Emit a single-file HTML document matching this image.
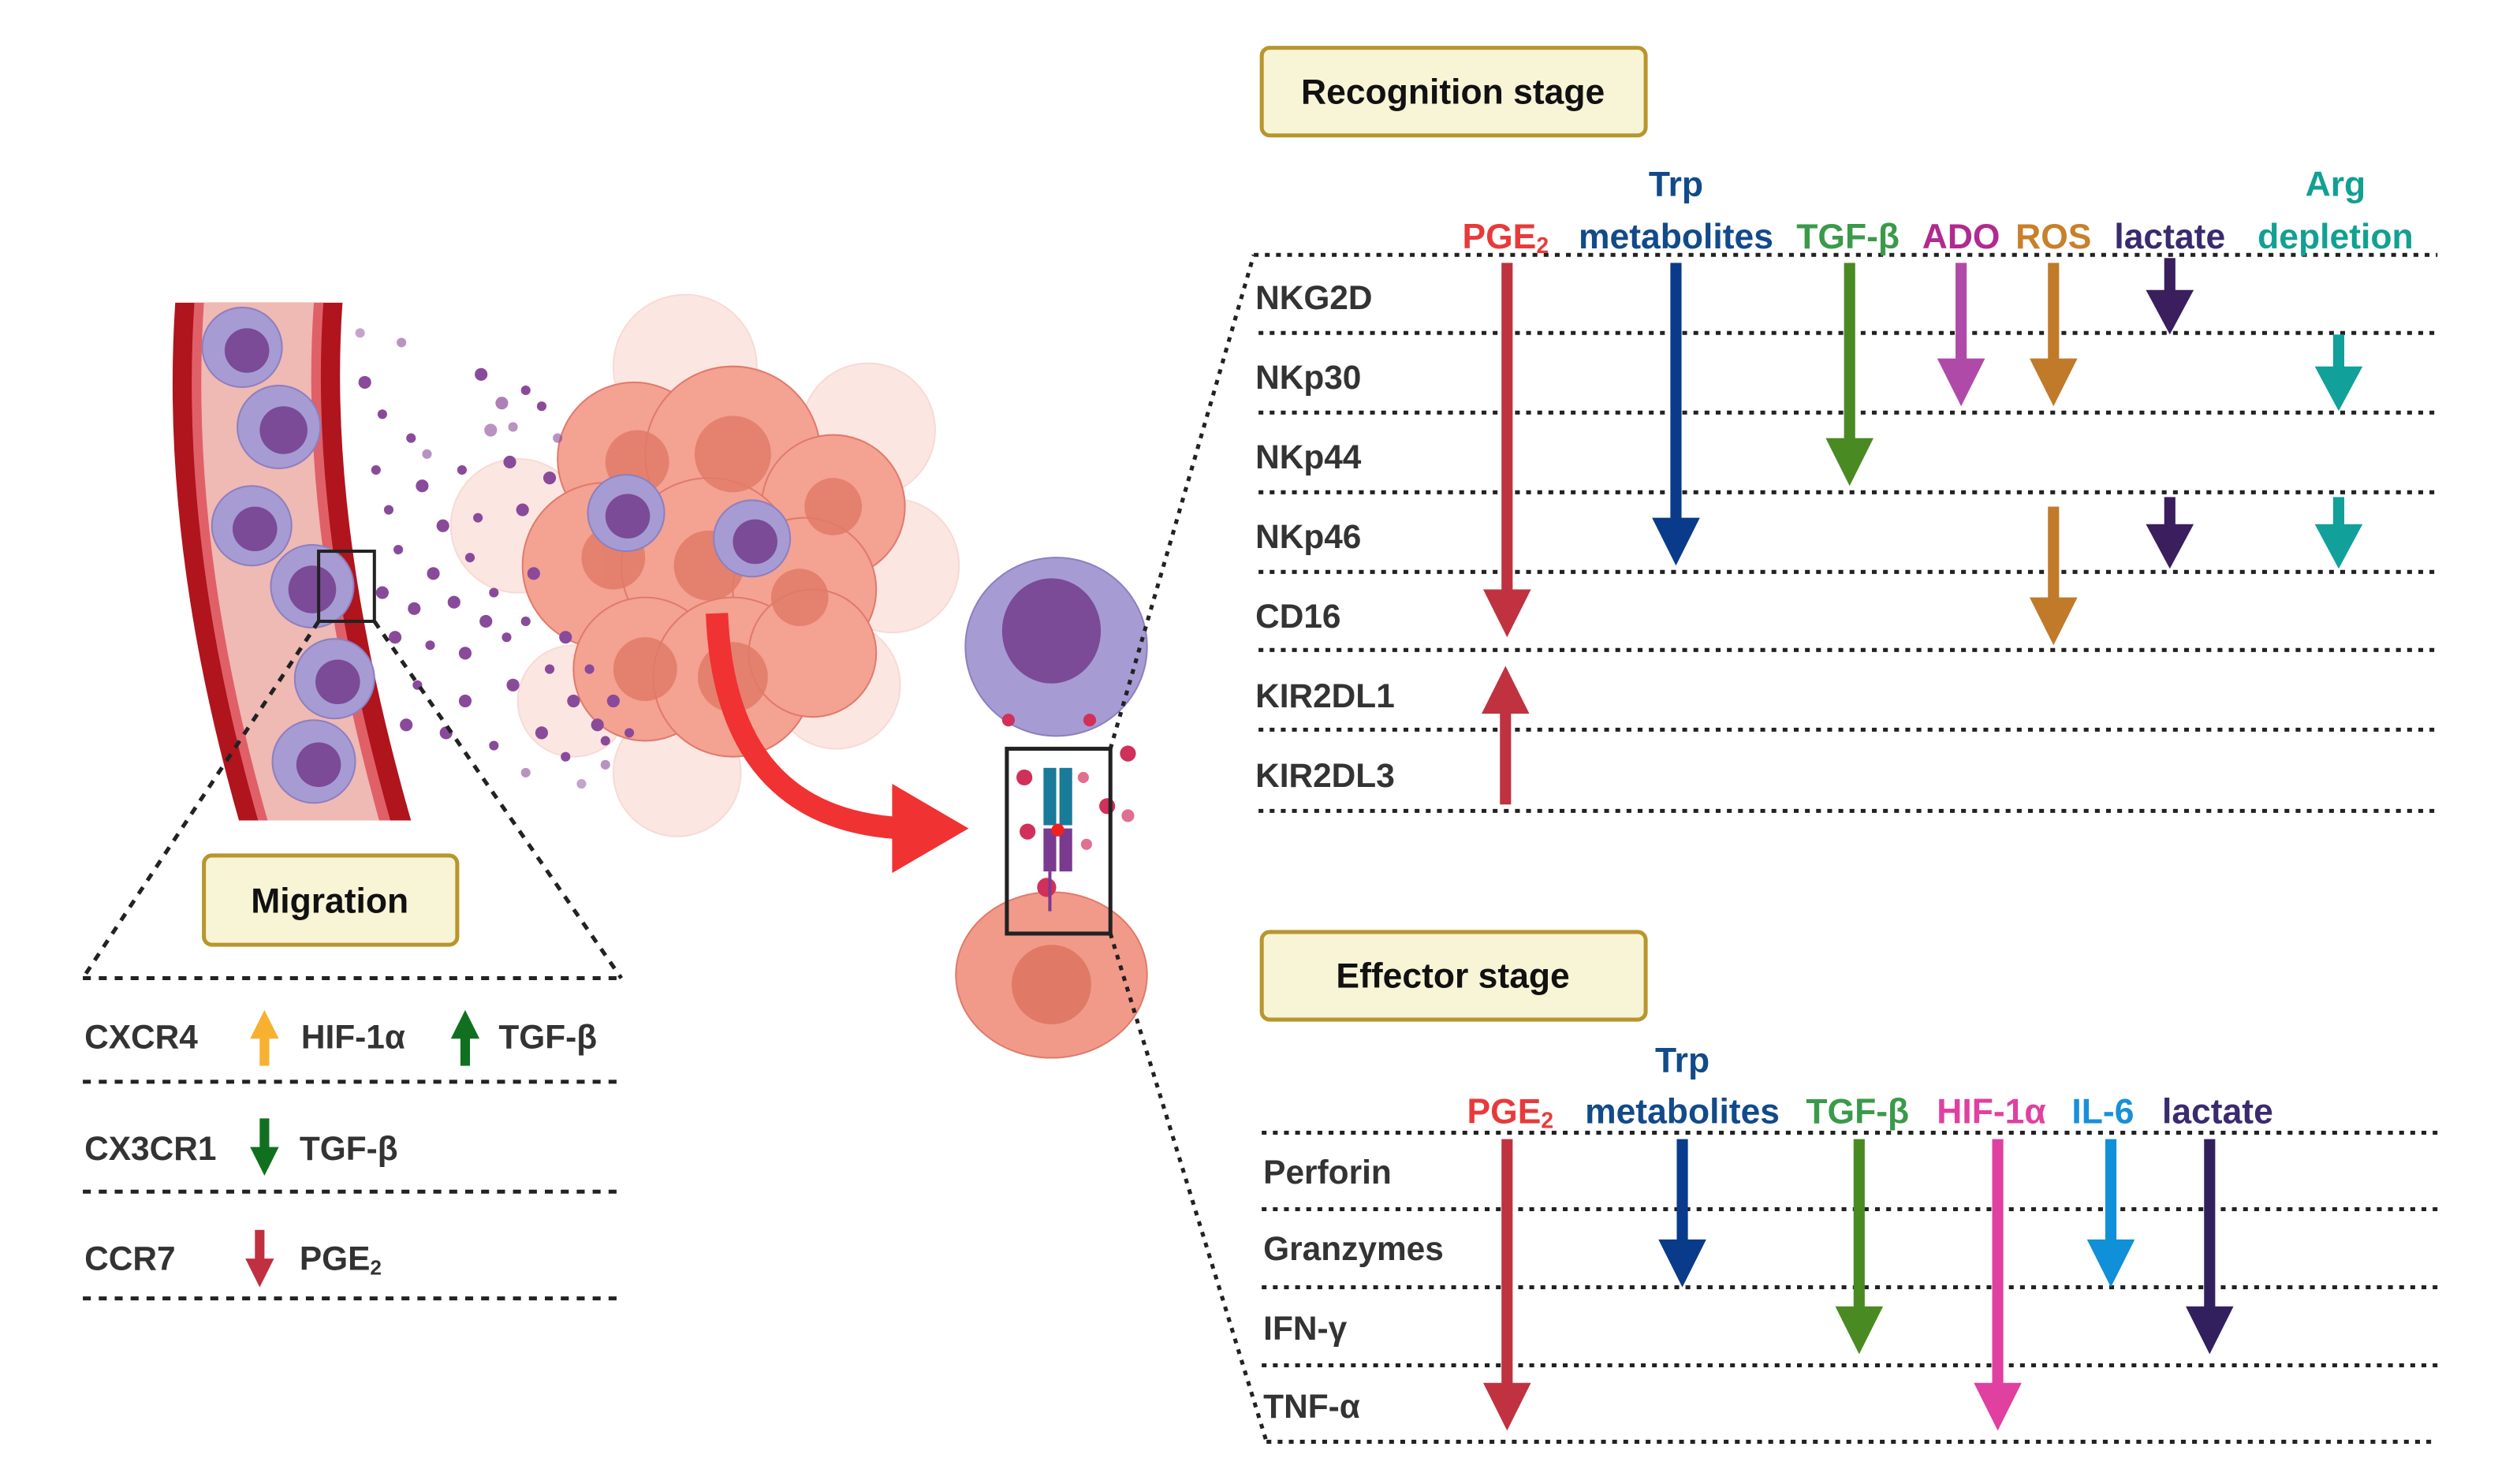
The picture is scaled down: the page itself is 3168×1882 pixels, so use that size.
<!DOCTYPE html>
<html><head><meta charset="utf-8"><style>
html,body{margin:0;padding:0;background:#fff;}
svg{display:block;}
text{font-family:"Liberation Sans",sans-serif;font-weight:bold;}
</style></head><body>
<svg width="3168" height="1882" viewBox="0 0 1568 931.5" xmlns="http://www.w3.org/2000/svg">
<rect width="1568" height="931.5" fill="#fff"/>

<!-- vessel -->
<path d="M110,190 L215,190 Q205,330 258,515 L150,515 Q100,340 110,190 Z" fill="#b0141c"/>
<path d="M122,190 L203,190 Q193,330 245,515 L162,515 Q112,340 122,190 Z" fill="#e06068"/>
<path d="M128,190 L197,190 Q187,330 238,515 L168,515 Q118,340 128,190 Z" fill="#efb9b4"/>
<g stroke="#8d7fc0" stroke-width="1">
<circle cx="152" cy="218" r="25" fill="#a79bd3"/><circle cx="175" cy="268" r="26" fill="#a79bd3"/>
<circle cx="158" cy="330" r="25" fill="#a79bd3"/><circle cx="196" cy="368" r="26" fill="#a79bd3"/>
<circle cx="210" cy="426" r="25" fill="#a79bd3"/><circle cx="197" cy="478" r="26" fill="#a79bd3"/>
</g>
<g fill="#7b4b97">
<circle cx="155" cy="220" r="14"/><circle cx="178" cy="270" r="15"/><circle cx="160" cy="332" r="14"/>
<circle cx="196" cy="370" r="15"/><circle cx="212" cy="428" r="14"/><circle cx="200" cy="480" r="14"/>
</g>
<rect x="200" y="346" width="35" height="44" fill="none" stroke="#222" stroke-width="2"/>

<!-- tumor -->
<g stroke="#e88878" stroke-width="1">
<g opacity=".3" fill="#f6b0a2">
<circle cx="430" cy="230" r="45"/><circle cx="545" cy="270" r="42"/><circle cx="560" cy="355" r="42"/>
<circle cx="325" cy="330" r="42"/><circle cx="425" cy="485" r="40"/><circle cx="525" cy="430" r="40"/><circle cx="360" cy="440" r="35"/>
</g>
<g fill="#f4a292" stroke="#e07a6c">
<circle cx="398" cy="288" r="48"/><circle cx="460" cy="285" r="55"/><circle cx="523" cy="318" r="45"/>
<circle cx="380" cy="355" r="52"/><circle cx="445" cy="355" r="55"/><circle cx="505" cy="370" r="45"/>
<circle cx="405" cy="420" r="45"/><circle cx="460" cy="425" r="50"/><circle cx="510" cy="410" r="40"/>
</g>
</g>
<g fill="#e07a66" opacity=".8">
<circle cx="400" cy="290" r="20"/><circle cx="460" cy="285" r="24"/><circle cx="523" cy="318" r="18"/>
<circle cx="385" cy="350" r="20"/><circle cx="445" cy="355" r="22"/><circle cx="502" cy="375" r="18"/>
<circle cx="405" cy="420" r="20"/><circle cx="460" cy="425" r="22"/>
</g>

<!-- dots -->
<g fill="#8a4a9a">
<circle cx="226" cy="209" r="3" opacity=".5"/><circle cx="252" cy="215" r="3" opacity=".6"/><circle cx="229" cy="240" r="4"/>
<circle cx="240" cy="260" r="3"/><circle cx="258" cy="275" r="3"/><circle cx="302" cy="235" r="4"/><circle cx="315" cy="253" r="4" opacity=".7"/>
<circle cx="330" cy="245" r="3"/><circle cx="308" cy="270" r="4" opacity=".6"/><circle cx="236" cy="295" r="3"/><circle cx="265" cy="305" r="4"/>
<circle cx="290" cy="295" r="3"/><circle cx="320" cy="290" r="4"/><circle cx="244" cy="320" r="3"/><circle cx="278" cy="330" r="4"/>
<circle cx="300" cy="325" r="3"/><circle cx="328" cy="320" r="4"/><circle cx="250" cy="345" r="3"/><circle cx="272" cy="360" r="4"/>
<circle cx="295" cy="350" r="3"/><circle cx="240" cy="372" r="4"/><circle cx="260" cy="382" r="4"/><circle cx="285" cy="378" r="4"/>
<circle cx="310" cy="372" r="3"/><circle cx="335" cy="360" r="4"/><circle cx="248" cy="400" r="4"/><circle cx="270" cy="405" r="3"/>
<circle cx="292" cy="410" r="4"/><circle cx="318" cy="400" r="3"/><circle cx="262" cy="430" r="3"/><circle cx="292" cy="440" r="4"/>
<circle cx="322" cy="430" r="4"/><circle cx="345" cy="420" r="3"/><circle cx="280" cy="460" r="4"/><circle cx="310" cy="468" r="3"/>
<circle cx="340" cy="460" r="4"/><circle cx="360" cy="440" r="4"/><circle cx="355" cy="475" r="3"/><circle cx="375" cy="455" r="4"/>
<circle cx="380" cy="480" r="3" opacity=".6"/><circle cx="365" cy="492" r="3" opacity=".5"/><circle cx="345" cy="300" r="4"/><circle cx="350" cy="275" r="3" opacity=".6"/>
<circle cx="340" cy="255" r="3"/><circle cx="322" cy="268" r="3" opacity=".6"/><circle cx="355" cy="400" r="4"/><circle cx="370" cy="420" r="3"/>
<circle cx="385" cy="440" r="4"/><circle cx="395" cy="460" r="3"/><circle cx="380" cy="465" r="3"/><circle cx="268" cy="285" r="3" opacity=".6"/>
<circle cx="305" cy="390" r="4"/><circle cx="330" cy="390" r="3"/><circle cx="255" cy="455" r="4"/><circle cx="330" cy="485" r="3" opacity=".6"/>
</g>
<g stroke="#8d7fc0" stroke-width="1" fill="#a79bd3"><circle cx="393" cy="322" r="24"/><circle cx="472" cy="338" r="24"/></g>
<g fill="#7b4b97"><circle cx="394" cy="324" r="14"/><circle cx="474" cy="340" r="14"/></g>

<!-- red curved arrow -->
<path d="M450,385 Q455,515 568,520" fill="none" stroke="#f03232" stroke-width="14"/>
<polygon points="560,492 608,520 560,548" fill="#f03232"/>

<!-- right cells -->
<ellipse cx="660" cy="612" rx="60" ry="52" fill="#f29a8a" stroke="#e07a6a"/>
<circle cx="660" cy="618" r="25" fill="#e07a66"/>
<ellipse cx="663" cy="406" rx="57" ry="56" fill="#a79bd3" stroke="#8d7fc0"/>
<ellipse cx="660" cy="396" rx="31" ry="33" fill="#7b4b97"/>
<g fill="#d0305a"><circle cx="633" cy="452" r="4"/><circle cx="684" cy="452" r="4"/><circle cx="643" cy="488" r="5"/><circle cx="708" cy="473" r="5"/>
<circle cx="695" cy="506" r="5"/><circle cx="645" cy="522" r="5"/><circle cx="657" cy="557" r="6"/></g>
<g fill="#e07090"><circle cx="680" cy="488" r="3.5"/><circle cx="708" cy="512" r="4"/><circle cx="682" cy="530" r="3.5"/></g>
<rect x="655" y="482" width="8" height="36" fill="#1a7a9a"/><rect x="665" y="482" width="8" height="36" fill="#1a7a9a"/>
<rect x="655" y="520" width="8" height="27" fill="#7a3a90"/><rect x="665" y="520" width="8" height="27" fill="#7a3a90"/>
<circle cx="664" cy="521" r="4" fill="#f02020"/>
<line x1="659" y1="547" x2="659" y2="572" stroke="#7a3a90" stroke-width="2"/>
<rect x="632" y="470" width="65" height="116" fill="none" stroke="#222" stroke-width="2.5"/>

<!-- connecting dashed lines -->
<g stroke="#222" stroke-width="2.5" stroke-dasharray="5 5" fill="none">
<line x1="200" y1="390" x2="52" y2="614"/><line x1="235" y1="390" x2="390" y2="614"/>
<line x1="52" y1="614" x2="390" y2="614"/><line x1="52" y1="679" x2="390" y2="679"/>
<line x1="52" y1="748" x2="390" y2="748"/><line x1="52" y1="815" x2="390" y2="815"/>
</g>
<g stroke="#222" stroke-width="2.5" stroke-dasharray="3 4" fill="none">
<line x1="697" y1="470" x2="787" y2="160"/><line x1="697" y1="586" x2="795" y2="905"/>
<line x1="787" y1="160" x2="1530" y2="160"/><line x1="790" y1="209" x2="1530" y2="209"/><line x1="790" y1="259" x2="1530" y2="259"/>
<line x1="790" y1="309" x2="1530" y2="309"/><line x1="790" y1="359" x2="1530" y2="359"/><line x1="790" y1="408" x2="1530" y2="408"/>
<line x1="790" y1="458" x2="1530" y2="458"/><line x1="790" y1="509" x2="1530" y2="509"/>
<line x1="792" y1="711" x2="1530" y2="711"/><line x1="792" y1="759" x2="1530" y2="759"/><line x1="792" y1="808" x2="1530" y2="808"/>
<line x1="792" y1="857" x2="1530" y2="857"/><line x1="795" y1="905" x2="1530" y2="905"/>
</g>

<!-- boxes -->
<g fill="#f8f4d6" stroke="#b8962e" stroke-width="2.5">
<rect x="792" y="30" width="241" height="55" rx="5"/><rect x="792" y="585" width="241" height="55" rx="5"/><rect x="128" y="537" width="159" height="56" rx="5"/>
</g>
<text x="912" y="65" font-size="22" text-anchor="middle" fill="#111">Recognition stage</text>
<text x="912" y="620" font-size="22" text-anchor="middle" fill="#111">Effector stage</text>
<text x="207" y="573" font-size="22" text-anchor="middle" fill="#111">Migration</text>

<!-- migration rows -->
<g font-size="21" fill="#333">
<text x="53" y="658">CXCR4</text><text x="189" y="658">HIF-1α</text><text x="313" y="658">TGF-β</text>
<text x="53" y="728">CX3CR1</text><text x="188" y="728">TGF-β</text>
<text x="53" y="797">CCR7</text><text x="188" y="797">PGE<tspan font-size="13" dy="3">2</tspan></text>
</g>
<polygon points="166,634 157,652 163,652 163,669 169,669 169,652 175,652" fill="#f8b030"/>
<polygon points="292,634 283,652 289,652 289,669 295,669 295,652 301,652" fill="#107020"/>
<polygon points="166,738 157,720 163,720 163,702 169,702 169,720 175,720" fill="#107020"/>
<polygon points="163,808 154,790 160,790 160,772 166,772 166,790 172,790" fill="#c03040"/>

<!-- recognition headers -->
<g font-size="22" text-anchor="middle">
<text x="945" y="156" fill="#e83a3a">PGE<tspan font-size="14" dy="3">2</tspan></text>
<text x="1052" y="123" fill="#124a8a">Trp</text><text x="1052" y="156" fill="#124a8a">metabolites</text>
<text x="1160" y="156" fill="#3a9a4a">TGF-β</text><text x="1231" y="156" fill="#b02a90">ADO</text>
<text x="1289" y="156" fill="#c8802a">ROS</text><text x="1362" y="156" fill="#3a2a6e">lactate</text>
<text x="1466" y="123" fill="#12a092">Arg</text><text x="1466" y="156" fill="#12a092">depletion</text>
</g>
<g font-size="21" fill="#333">
<text x="788" y="194">NKG2D</text><text x="788" y="244">NKp30</text><text x="788" y="294">NKp44</text><text x="788" y="344">NKp46</text>
<text x="788" y="394">CD16</text><text x="788" y="444">KIR2DL1</text><text x="788" y="494">KIR2DL3</text>
</g>
<!-- effector headers -->
<g font-size="22" text-anchor="middle">
<text x="948" y="705" fill="#e83a3a">PGE<tspan font-size="14" dy="3">2</tspan></text>
<text x="1056" y="673" fill="#124a8a">Trp</text><text x="1056" y="705" fill="#124a8a">metabolites</text>
<text x="1166" y="705" fill="#3a9a4a">TGF-β</text><text x="1250" y="705" fill="#e040a0">HIF-1α</text>
<text x="1320" y="705" fill="#1890d8">IL-6</text><text x="1392" y="705" fill="#3a2a6e">lactate</text>
</g>
<g font-size="21" fill="#333">
<text x="793" y="743">Perforin</text><text x="793" y="791">Granzymes</text><text x="793" y="841">IFN-γ</text><text x="793" y="890">TNF-α</text>
</g>

<!-- arrows -->
<g>
<path d="M942.5,165h7v205h11.5l-15,30l-15,-30h11.5z" fill="#c0323f"/>
<path d="M1048.5,165h7v160h11.5l-15,30l-15,-30h11.5z" fill="#0a3a8a"/>
<path d="M1157.5,165h7v110h11.5l-15,30l-15,-30h11.5z" fill="#4a8a22"/>
<path d="M1227.5,165h7v60h11.5l-15,30l-15,-30h11.5z" fill="#b04aa8"/>
<path d="M1285.5,165h7v60h11.5l-15,30l-15,-30h11.5z" fill="#c07a2a"/>
<path d="M1358.5,162h7v20h11.5l-15,28l-15,-28h11.5z" fill="#3a1e5e"/>
<path d="M1464.5,210h7v20h11.5l-15,28l-15,-28h11.5z" fill="#12a09a"/>
<path d="M1285.5,318h7v57h11.5l-15,30l-15,-30h11.5z" fill="#c07a2a"/>
<path d="M1358.5,312h7v17h11.5l-15,28l-15,-28h11.5z" fill="#3a1e5e"/>
<path d="M1464.5,312h7v17h11.5l-15,28l-15,-28h11.5z" fill="#12a09a"/>
<path d="M941.5,505h7v-57h11.5l-15,-30l-15,30h11.5z" fill="#c0323f"/>
<path d="M942.5,715h7v153h11.5l-15,30l-15,-30h11.5z" fill="#c0323f"/>
<path d="M1052.5,715h7v63h11.5l-15,30l-15,-30h11.5z" fill="#0a3a8a"/>
<path d="M1163.5,715h7v105h11.5l-15,30l-15,-30h11.5z" fill="#4a8a22"/>
<path d="M1250.5,715h7v153h11.5l-15,30l-15,-30h11.5z" fill="#e040a0"/>
<path d="M1321.5,715h7v63h11.5l-15,30l-15,-30h11.5z" fill="#1090d8"/>
<path d="M1383.5,715h7v105h11.5l-15,30l-15,-30h11.5z" fill="#32205e"/>
</g>
</svg>
</body></html>
